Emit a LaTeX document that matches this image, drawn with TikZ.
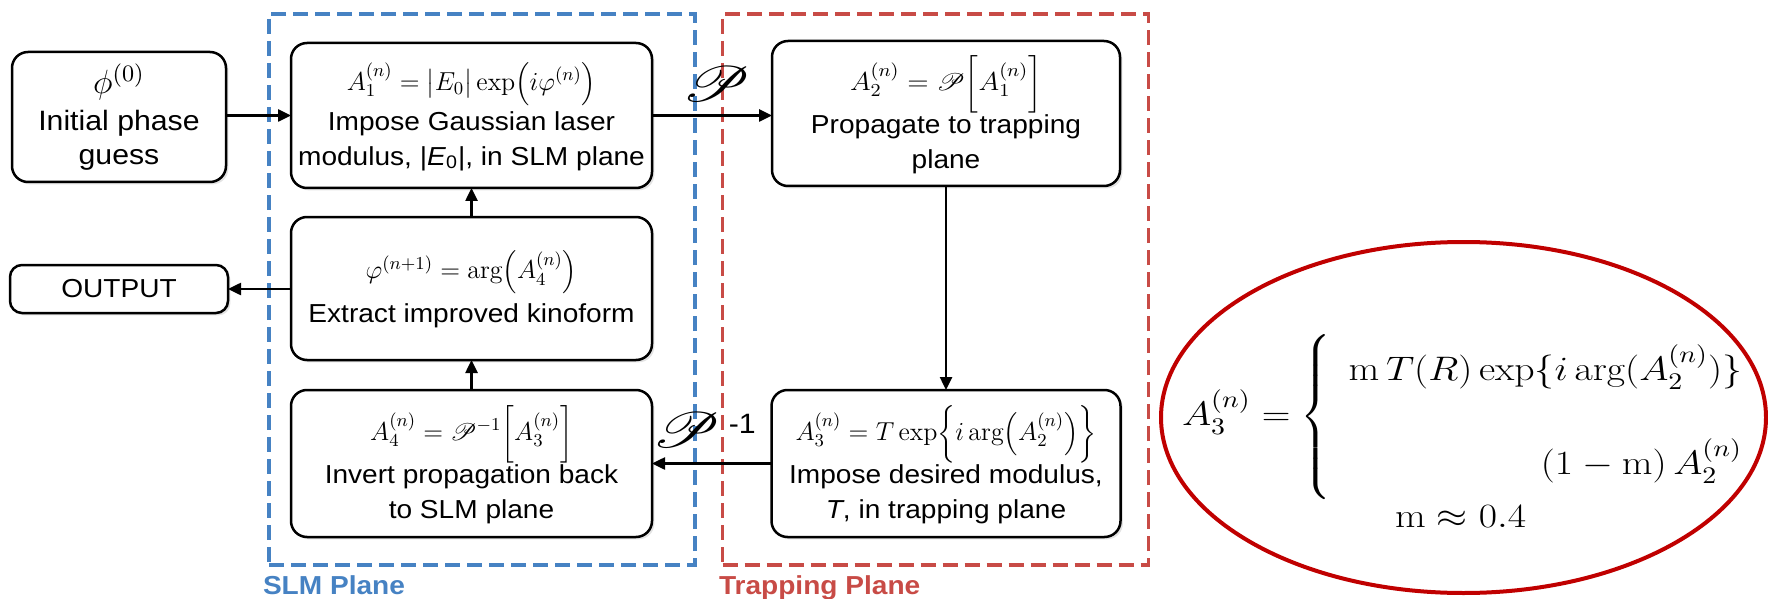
\RequirePackage{fix-cm}
\documentclass[tikz,border=0pt]{standalone}
\usepackage{fontspec}
\setsansfont[FakeStretch=1.08]{Liberation Sans}
\usepackage{amsmath}
\usepackage{mathrsfs}
\usepackage{graphicx}
\usetikzlibrary{arrows.meta,shadows,shapes.geometric}

\definecolor{slmblue}{RGB}{70,130,195}
\definecolor{trapred}{RGB}{200,75,70}
\definecolor{ringred}{RGB}{192,0,0}

% box formulas, optionally set a little wide like the surrounding text
\newcommand{\fml}[2][1]{\scalebox{#1}[1]{$#2$}}
% large formulas inside the red ellipse
\newcommand{\bigfml}[1]{\scalebox{1.17}[1]{\fontsize{17}{20}\selectfont$#1$}}

\begin{document}
\begin{tikzpicture}[x=0.5pt,y=-0.5pt,
  every node/.style={inner sep=0pt, outer sep=0pt},
  stepbox/.style={draw, line width=1.25pt, rounded corners=8pt, fill=white, align=center,
    font=\sffamily\fontsize{13}{17.5}\selectfont,
    drop shadow={opacity=0.22, shadow xshift=1.2pt, shadow yshift=-1.2pt}},
  flow/.style={line width=1.25pt, -{Triangle[length=6.5pt,width=6pt]}},
  planeframe/.style={dash pattern=on 7.5pt off 3.5pt, line width=1.6pt, minimum width=213pt, minimum height=275.5pt},
  planelabel/.style={font=\sffamily\bfseries\fontsize{13}{15}\selectfont, anchor=base west},
  oplabel/.style={font=\fontsize{26}{30}\selectfont}
]
\useasboundingbox (0,0) rectangle (1768,599);

% dashed plane frames
\node[planeframe, draw=slmblue] (slm) at (482,289.5) {};
\node[planeframe, draw=trapred] (trap) at (935.5,289.5) {};
\node[planelabel, text=slmblue] (slmlab) at (263,594) {SLM Plane};
\node[planelabel, text=trapred] (traplab) at (719,594) {Trapping Plane};

% algorithm steps
\node[stepbox, minimum width=107pt, minimum height=65pt, font=\sffamily\fontsize{14}{17}\selectfont] (init) at (119,117)
  {\scalebox{1.2}{$\phi^{(0)}$}\\[1.5pt]Initial phase\\guess};
\node[stepbox, minimum width=109pt, minimum height=24pt, rounded corners=6pt] (out) at (119,289)
  {OUTPUT};
\node[stepbox, minimum width=180.5pt, minimum height=72.5pt] (a1) at (471.5,115.5)
  {\fml{A_1^{(n)} = \bigl|E_0\bigr|\exp\Bigl(i\varphi^{(n)}\Bigr)}\\[1pt]
   Impose Gaussian laser\\modulus, |\textit{E}\textsubscript{0}|, in SLM plane};
\node[stepbox, minimum width=180.5pt, minimum height=71.5pt] (ext) at (471.5,288.5)
  {\fml{\varphi^{(n+1)} = \arg\Bigl(A_4^{(n)}\Bigr)}\\[3pt]Extract improved kinoform};
\node[stepbox, minimum width=180.5pt, minimum height=73.5pt] (inv) at (471.5,463.5)
  {\fml{A_4^{(n)} = \mathscr{P}^{-1}\biggl[A_3^{(n)}\biggr]}\\[-1pt]Invert propagation back\\to SLM plane};
\node[stepbox, minimum width=174pt, minimum height=72.5pt] (a2) at (946,113.5)
  {\fml[1.08]{A_2^{(n)} = \mathscr{P}\biggl[A_1^{(n)}\biggr]}\\[-1pt]Propagate to trapping\\plane};
\node[stepbox, minimum width=174.5pt, minimum height=73.5pt] (a3) at (946,463.5)
  {\fml{A_3^{(n)} = T\exp\biggl\{i\arg\Bigl(A_2^{(n)}\Bigr)\biggr\}}\\[-1pt]
   Impose desired modulus,\\\textit{T}, in trapping plane};

% operator labels
\node[oplabel] (fwd) at (716,84) {\scalebox{1.25}[1]{$\mathscr{P}$}};
\node[oplabel] (bwd) at (704,430) {\scalebox{1.25}[1]{$\mathscr{P}$}\,\raisebox{7pt}{\sffamily\fontsize{14}{16}\selectfont -1}};

% connectors
\draw[flow] (init.east |- a1.west) -- (a1.west);
\draw[flow] (a1.east) -- (a1.east -| a2.west);
\draw[flow] (a2.south) -- (a3.north);
\draw[flow] (a3.west) -- (inv.east);
\draw[flow] (inv.north) -- (ext.south);
\draw[flow] (ext.north) -- (a1.south);
\draw[flow] (ext.west |- out.east) -- (out.east);

% modified amplitude constraint
\node[draw=ringred, line width=2pt, ellipse, minimum width=302.5pt, minimum height=175.5pt] (ring) at (1463.5,417.5) {};
\node[anchor=base west] (lhs) at (1182,425) {\bigfml{A_3^{(n)} =}};
\node (brace) at (1317,417) {\fontsize{17}{20}\selectfont$\left\{\vcenter{\hbox{\rule{0pt}{84pt}}}\right.$};
\node[anchor=base east] (case1) at (1742,380) {\bigfml{\mathrm{m}\,T(R)\exp\{i\arg(A_2^{(n)})\}}};
\node[anchor=base east] (case2) at (1742,474) {\bigfml{(1-\mathrm{m})\,A_2^{(n)}}};
\node[anchor=base west] (mval) at (1395,527) {\bigfml{\mathrm{m}\approx 0.4}};
\end{tikzpicture}
\end{document}
